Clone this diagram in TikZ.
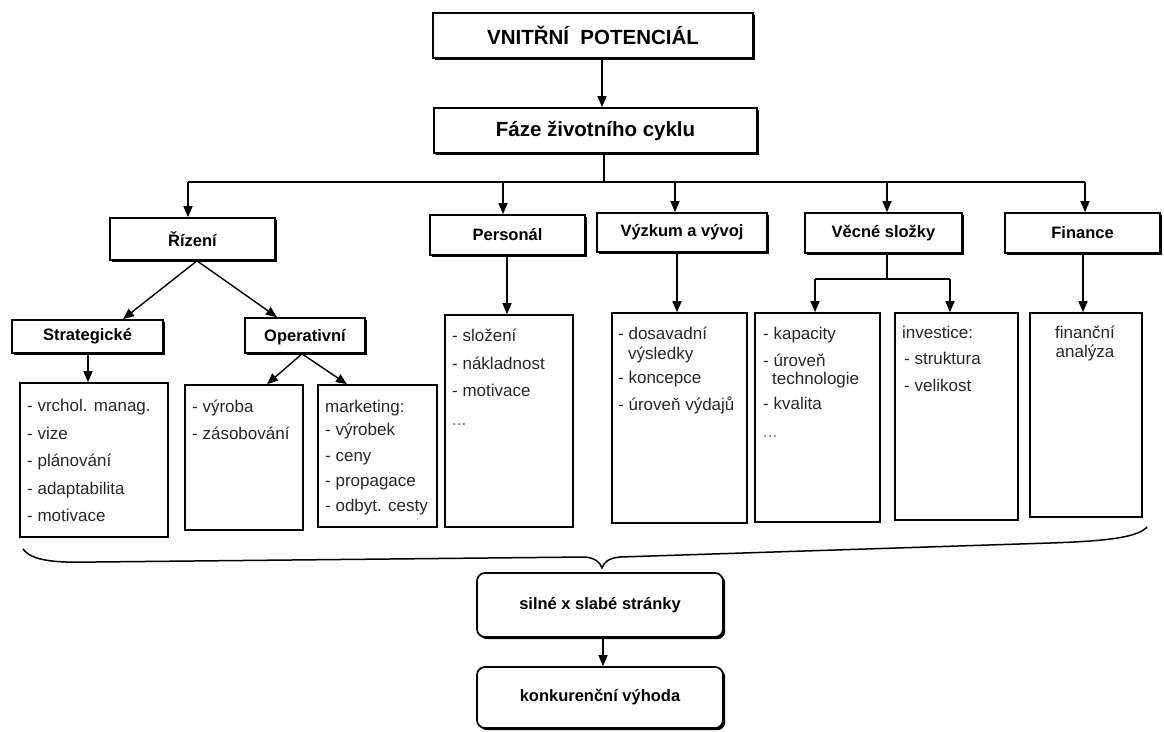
\documentclass[tikz,border=0pt]{standalone}
\usepackage{fontspec}
\setmainfont{Liberation Sans}
\usetikzlibrary{arrows.meta,shadows}
\begin{document}
\begin{tikzpicture}[x=1pt,y=-1pt,
 hbox/.style={draw,line width=1.7pt,fill=white,inner sep=0,
   drop shadow={shadow xshift=2.2pt,shadow yshift=-2.2pt,fill=black,opacity=1}},
 rbox/.style={hbox,rounded corners=8pt},
 lbox/.style={draw,line width=1.6pt,inner sep=0},
 arr/.style={line width=1.4pt,-{Triangle[length=11pt,width=9pt]}},
 ln/.style={line width=1.4pt},
 big/.style={font=\fontsize{20.5}{24}\selectfont\bfseries},
 mid/.style={font=\fontsize{16.5}{20}\selectfont\bfseries},
 itm/.style={anchor=base west,inner sep=0,text=black!85,font=\fontsize{17}{20}\selectfont},
 itc/.style={itm,anchor=base}
]
\useasboundingbox (0,0) rectangle (1164,731);

% top level
\node[hbox,big,minimum width=320,minimum height=45] (top) at (593,35.5) {VNITŘNÍ\ \ POTENCIÁL};
\node[hbox,big,minimum width=323,minimum height=45] (faze) at (595.5,130.5) {Fáze životního cyklu};

% second level
\node[hbox,mid,minimum width=165,minimum height=42] (rizeni) at (192.5,239) {Řízení};
\node[hbox,mid,minimum width=155,minimum height=40] (pers) at (507.5,235) {Personál};
\node[hbox,mid,minimum width=170,minimum height=39] (vyz) at (682,232.5) {Výzkum a vývoj};
\node[hbox,mid,minimum width=157,minimum height=40] (vec) at (883.5,233) {Věcné složky};
\node[hbox,mid,minimum width=155,minimum height=40] (fin) at (1082.5,233) {Finance};

% third level
\node[hbox,mid,minimum width=151,minimum height=33] (strat) at (87.5,336.5) {Strategické};
\node[hbox,mid,minimum width=120,minimum height=35,text depth=0pt] (oper) at (305,335.5) {Operativní};

% list boxes
\node[lbox,minimum width=148,minimum height=154] (L1) at (94,460) {};
\node[lbox,minimum width=118,minimum height=145] (L2) at (244,457.5) {};
\node[lbox,minimum width=119,minimum height=142] (L3) at (377.5,456) {};
\node[lbox,minimum width=128,minimum height=212] (L4) at (509,421) {};
\node[lbox,minimum width=135,minimum height=210] (L5) at (679.5,418) {};
\node[lbox,minimum width=125,minimum height=209] (L6) at (817.5,417.5) {};
\node[lbox,minimum width=123,minimum height=207] (L7) at (956.5,416.5) {};
\node[lbox,minimum width=112,minimum height=204] (L8) at (1086,415) {};

% list texts
\node[itm] (l1a) at (27,411.5) {- vrchol. manag.};
\node[itm] (l1b) at (27,439.5) {- vize};
\node[itm] (l1c) at (27,466.5) {- plánování};
\node[itm] (l1d) at (27,494.5) {- adaptabilita};
\node[itm] (l1e) at (27,521.5) {- motivace};

\node[itm] (l2a) at (192,412.5) {- výroba};
\node[itm] (l2b) at (192,439.5) {- zásobování};

\node[itm] (l3a) at (325,412.5) {marketing:};
\node[itm] (l3b) at (325,435.5) {- výrobek};
\node[itm] (l3c) at (325,461.5) {- ceny};
\node[itm] (l3d) at (325,486.5) {- propagace};
\node[itm] (l3e) at (325,511.5) {- odbyt. cesty};

\node[itm] (l4a) at (452,341.5) {- složení};
\node[itm] (l4b) at (452,369.5) {- nákladnost};
\node[itm] (l4c) at (452,396.5) {- motivace};
\node[itm,text=black!55] (l4d) at (452,425) {...};

\node[itm] (l5a) at (618,339.5) {- dosavadní};
\node[itm] (l5b) at (628,359.5) {výsledky};
\node[itm] (l5c) at (618,383.5) {- koncepce};
\node[itm] (l5d) at (618,410.5) {- úroveň výdajů};

\node[itm] (l6a) at (763,339.5) {- kapacity};
\node[itm] (l6b) at (763,366.5) {- úroveň};
\node[itm] (l6c) at (772,384.5) {technologie};
\node[itm] (l6d) at (763,409.5) {- kvalita};
\node[itm,text=black!55] (l6e) at (763,437) {...};

\node[itm] (l7a) at (902,338.5) {investice:};
\node[itm] (l7b) at (904,364.5) {- struktura};
\node[itm] (l7c) at (904,391.5) {- velikost};

\node[itc] (l8a) at (1085,338.5) {finanční};
\node[itc] (l8b) at (1085,357.5) {analýza};

% bottom
\node[rbox,mid,minimum width=246,minimum height=64] (silne) at (600,605) {silné x slabé stránky};
\node[rbox,mid,minimum width=246,minimum height=61] (konk) at (600,697.5) {konkurenční výhoda};

% connectors
\draw[arr] (602,0 |- top.south) -- (602,0 |- faze.north);
\coordinate (bus) at (604,182);
\coordinate (busL) at (188,182);
\coordinate (busR) at (1085,182);
\draw[ln] (604,0 |- faze.south) -- (bus);
\draw[ln] (busL) -- (busR);
\draw[arr] (busL) -- (188,0 |- rizeni.north);
\draw[arr] (503,182) -- (503,0 |- pers.north);
\draw[arr] (675,182) -- (675,0 |- vyz.north);
\draw[arr] (887,182) -- (887,0 |- vec.north);
\draw[arr] (busR) -- (1085,0 |- fin.north);

\draw[arr] (197,0 |- rizeni.south) -- (123,0 |- strat.north);
\draw[arr] (197,0 |- rizeni.south) -- (277,0 |- oper.north);
\draw[arr] (88,0 |- strat.south) -- (88,0 |- L1.north);
\draw[arr] (302,0 |- oper.south) -- (267,0 |- L2.north);
\draw[arr] (302,0 |- oper.south) -- (347,0 |- L3.north);
\draw[arr] (507,0 |- pers.south) -- (507,0 |- L4.north);
\draw[arr] (677,0 |- vyz.south) -- (677,0 |- L5.north);
\coordinate (vj) at (887,279);
\draw[ln] (887,0 |- vec.south) -- (vj);
\draw[ln] (815,279) -- (950,279);
\draw[arr] (815,279) -- (815,0 |- L6.north);
\draw[arr] (950,279) -- (950,0 |- L7.north);
\draw[arr] (1083,0 |- fin.south) -- (1083,0 |- L8.north);

% brace
\draw[line width=1.5pt] (23,549) .. controls (32,561) and (55,563) .. (95,562) -- (585,557) .. controls (595,558) and (600,562) .. (602,568) .. controls (604,562) and (609,558) .. (620,557) -- (1050,543) .. controls (1110,541) and (1138,537) .. (1147,527);

\draw[arr] (603,0 |- silne.south) -- (603,0 |- konk.north);
\end{tikzpicture}
\end{document}
